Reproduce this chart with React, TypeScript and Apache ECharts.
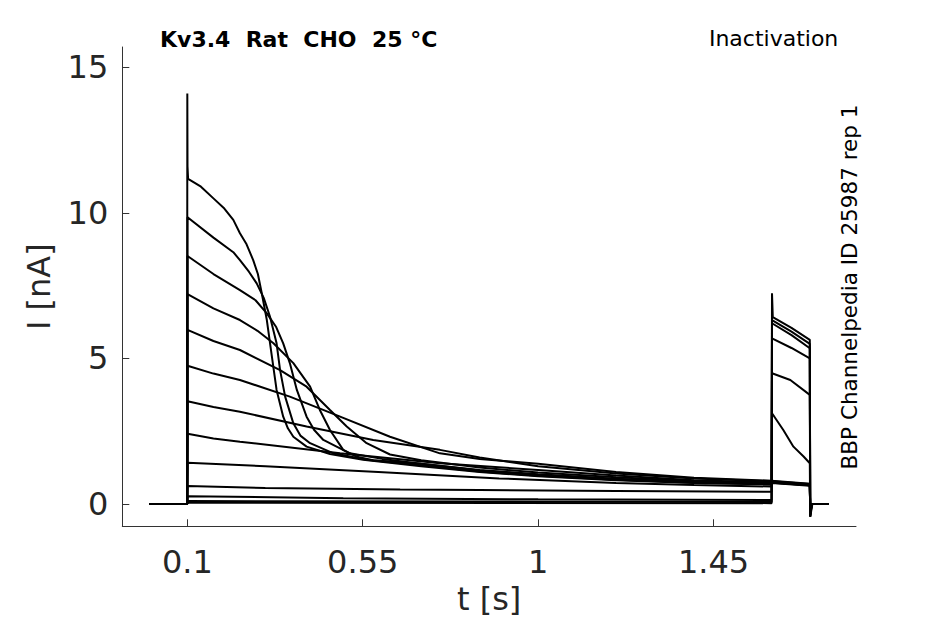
import React, { useEffect, useRef } from "react";
import * as echarts from "echarts";

// time [s], current [nA]
const X_TICKS = [0.1, 0.55, 1, 1.45];
const Y_TICKS = [0, 5, 10, 15];

const BASELINE = [[0.003, 0], [0.0995, 0]];
const TAIL = [[1.702, 0], [1.745, 0]];

const T1 = [[0.1, 14.1], [0.1005, 11.6], [0.102, 11.17], [0.135, 10.9], [0.167, 10.5], [0.195, 10.15], [0.218, 9.76], [0.235, 9.3], [0.252, 8.92], [0.269, 8.38], [0.281, 7.9], [0.291, 7.24], [0.304, 6.32], [0.317, 5.06], [0.329, 3.92], [0.346, 3.0], [0.358, 2.6], [0.372, 2.31], [0.406, 1.97], [0.466, 1.72], [0.551, 1.52], [0.7, 1.3], [0.85, 1.1], [1.0, 0.95], [1.2, 0.82], [1.4, 0.72], [1.599, 0.67], [1.6, 0.72], [1.697, 0.63], [1.698, -0.2]];
const T2 = [[0.1005, 9.85], [0.167, 9.15], [0.218, 8.65], [0.235, 8.38], [0.258, 7.98], [0.278, 7.58], [0.296, 7.08], [0.312, 6.44], [0.329, 5.52], [0.338, 4.6], [0.351, 3.69], [0.372, 2.77], [0.39, 2.35], [0.415, 2.09], [0.475, 1.74], [0.56, 1.52], [0.7, 1.33], [0.85, 1.12], [1.0, 0.97], [1.2, 0.83], [1.4, 0.73], [1.599, 0.68], [1.6, 0.73], [1.697, 0.64], [1.698, -0.2]];
const T3 = [[0.1005, 8.52], [0.167, 7.9], [0.235, 7.35], [0.275, 7.0], [0.304, 6.55], [0.328, 6.08], [0.346, 5.52], [0.363, 4.84], [0.381, 3.92], [0.406, 3.0], [0.425, 2.55], [0.449, 2.2], [0.517, 1.74], [0.6, 1.55], [0.7, 1.38], [0.85, 1.15], [1.0, 1.0], [1.2, 0.85], [1.4, 0.75], [1.599, 0.69], [1.6, 0.74], [1.697, 0.64], [1.698, -0.2]];
const T4 = [[0.1005, 7.21], [0.167, 6.72], [0.235, 6.32], [0.28, 5.95], [0.321, 5.52], [0.372, 4.84], [0.415, 4.03], [0.44, 3.23], [0.466, 2.54], [0.5, 1.86], [0.535, 1.62], [0.577, 1.5], [0.7, 1.38], [0.85, 1.17], [1.0, 1.02], [1.2, 0.87], [1.4, 0.76], [1.599, 0.7], [1.6, 0.75], [1.697, 0.65], [1.698, -0.2]];
const T5 = [[0.1005, 5.98], [0.167, 5.6], [0.235, 5.29], [0.338, 4.6], [0.406, 4.03], [0.466, 3.23], [0.509, 2.66], [0.56, 2.09], [0.62, 1.7], [0.7, 1.5], [0.85, 1.25], [1.0, 1.08], [1.2, 0.92], [1.4, 0.79], [1.599, 0.72], [1.6, 0.76], [1.697, 0.66], [1.698, -0.2]];
const T6 = [[0.1005, 4.75], [0.167, 4.48], [0.235, 4.26], [0.363, 3.69], [0.492, 3.0], [0.62, 2.31], [0.748, 1.74], [0.85, 1.55], [1.0, 1.38], [1.2, 1.1], [1.4, 0.9], [1.599, 0.8], [1.6, 0.82], [1.697, 0.7], [1.698, -0.2]];
const T7 = [[0.1005, 3.53], [0.167, 3.33], [0.235, 3.17], [0.406, 2.66], [0.577, 2.2], [0.748, 1.86], [0.85, 1.6], [1.0, 1.3], [1.2, 1.05], [1.4, 0.88], [1.599, 0.78], [1.6, 0.8], [1.697, 0.69], [1.698, -0.2]];
const T8 = [[0.1005, 2.41], [0.167, 2.25], [0.235, 2.14], [0.492, 1.74], [0.748, 1.4], [1.0, 1.17], [1.2, 0.98], [1.4, 0.82], [1.599, 0.74], [1.6, 3.12], [1.629, 2.54], [1.655, 1.97], [1.681, 1.63], [1.697, 1.4], [1.698, -0.3]];
const T9 = [[0.1005, 1.42], [0.3, 1.3], [0.59, 1.1], [0.9, 0.88], [1.2, 0.72], [1.4, 0.65], [1.599, 0.6], [1.6, 4.49], [1.647, 4.26], [1.697, 3.75], [1.698, -0.35]];
const T10 = [[0.1005, 0.62], [0.3, 0.55], [0.646, 0.5], [0.85, 0.48], [1.2, 0.45], [1.599, 0.42], [1.6, 5.69], [1.65, 5.36], [1.697, 5.0], [1.698, -0.4]];
const T11 = [[0.1005, 0.27], [0.5, 0.2], [1.0, 0.16], [1.599, 0.14], [1.6, 6.21], [1.65, 5.8], [1.697, 5.35], [1.698, -0.42]];
const T12 = [[0.1005, 0.1], [1.599, 0.07], [1.6, 6.32], [1.65, 5.92], [1.697, 5.5], [1.698, -0.44]];
const T13 = [[0.1005, 0.04], [1.599, 0.03], [1.6, 7.24], [1.602, 6.42], [1.65, 6.05], [1.697, 5.64], [1.698, -0.44], [1.703, -0.05]];

const TRACES = [T1, T2, T3, T4, T5, T6, T7, T8, T9, T10, T11, T12, T13];

const FONT = "DejaVu Sans";
const INK = "#262626";

export default function App() {
  const ref = useRef<HTMLDivElement>(null);
  useEffect(() => {
    if (!ref.current) return;
    const chart = echarts.init(ref.current, undefined, { renderer: "svg" });
    const axisLine = { show: true, onZero: false, lineStyle: { color: "#333333", width: 1 } };
    const tickStyle = { color: "#333333", width: 1 };
    const nameTextStyle = { fontFamily: FONT, fontSize: 32, color: INK };
    chart.setOption({
      animation: false,
      backgroundColor: "#ffffff",
      grid: { left: 122.3, right: 89, top: 47, bottom: 97.7, containLabel: false },
      xAxis: {
        type: "value",
        min: -0.0668,
        max: 1.8155,
        name: "t [s]",
        nameLocation: "middle",
        nameGap: 55,
        nameTextStyle,
        axisLine,
        splitLine: { show: false },
        axisTick: { show: true, inside: true, length: 7, lineStyle: tickStyle, customValues: X_TICKS },
        axisLabel: { customValues: X_TICKS, fontFamily: FONT, fontSize: 32, color: INK, margin: 20 },
      },
      yAxis: {
        type: "value",
        min: -0.766,
        max: 15.7,
        name: "I [nA]",
        nameLocation: "middle",
        nameGap: 67,
        nameTextStyle,
        axisLine,
        splitLine: { show: false },
        axisTick: { show: true, inside: true, length: 7, lineStyle: tickStyle, customValues: Y_TICKS },
        axisLabel: { customValues: Y_TICKS, fontFamily: FONT, fontSize: 32, color: INK, margin: 14 },
      },
      series: TRACES.map((tr, i) => ({
        type: "line",
        name: "trace " + (i + 1),
        data: [...BASELINE, ...tr, ...TAIL],
        showSymbol: false,
        symbol: "none",
        lineStyle: { color: "#000000", width: 2 },
        silent: true,
      })),
      graphic: [
        {
          type: "text",
          left: 160,
          top: 28,
          style: { text: "Kv3.4  Rat  CHO  25 °C", font: `bold 22px '${FONT}'`, fill: "#000000" },
        },
        {
          type: "text",
          x: 838.3,
          y: 38,
          style: { text: "Inactivation", font: `22px '${FONT}'`, fill: "#000000", align: "right", verticalAlign: "middle" },
        },
        {
          type: "text",
          x: 849,
          y: 287,
          rotation: Math.PI / 2,
          style: { text: "BBP Channelpedia ID 25987 rep 1", font: `21.5px '${FONT}'`, fill: "#000000", align: "center", verticalAlign: "middle" },
        },
      ],
    });
    return () => chart.dispose();
  }, []);
  return <div ref={ref} style={{ position: "fixed", left: 0, top: 0, width: 945, height: 624 }} />;
}
